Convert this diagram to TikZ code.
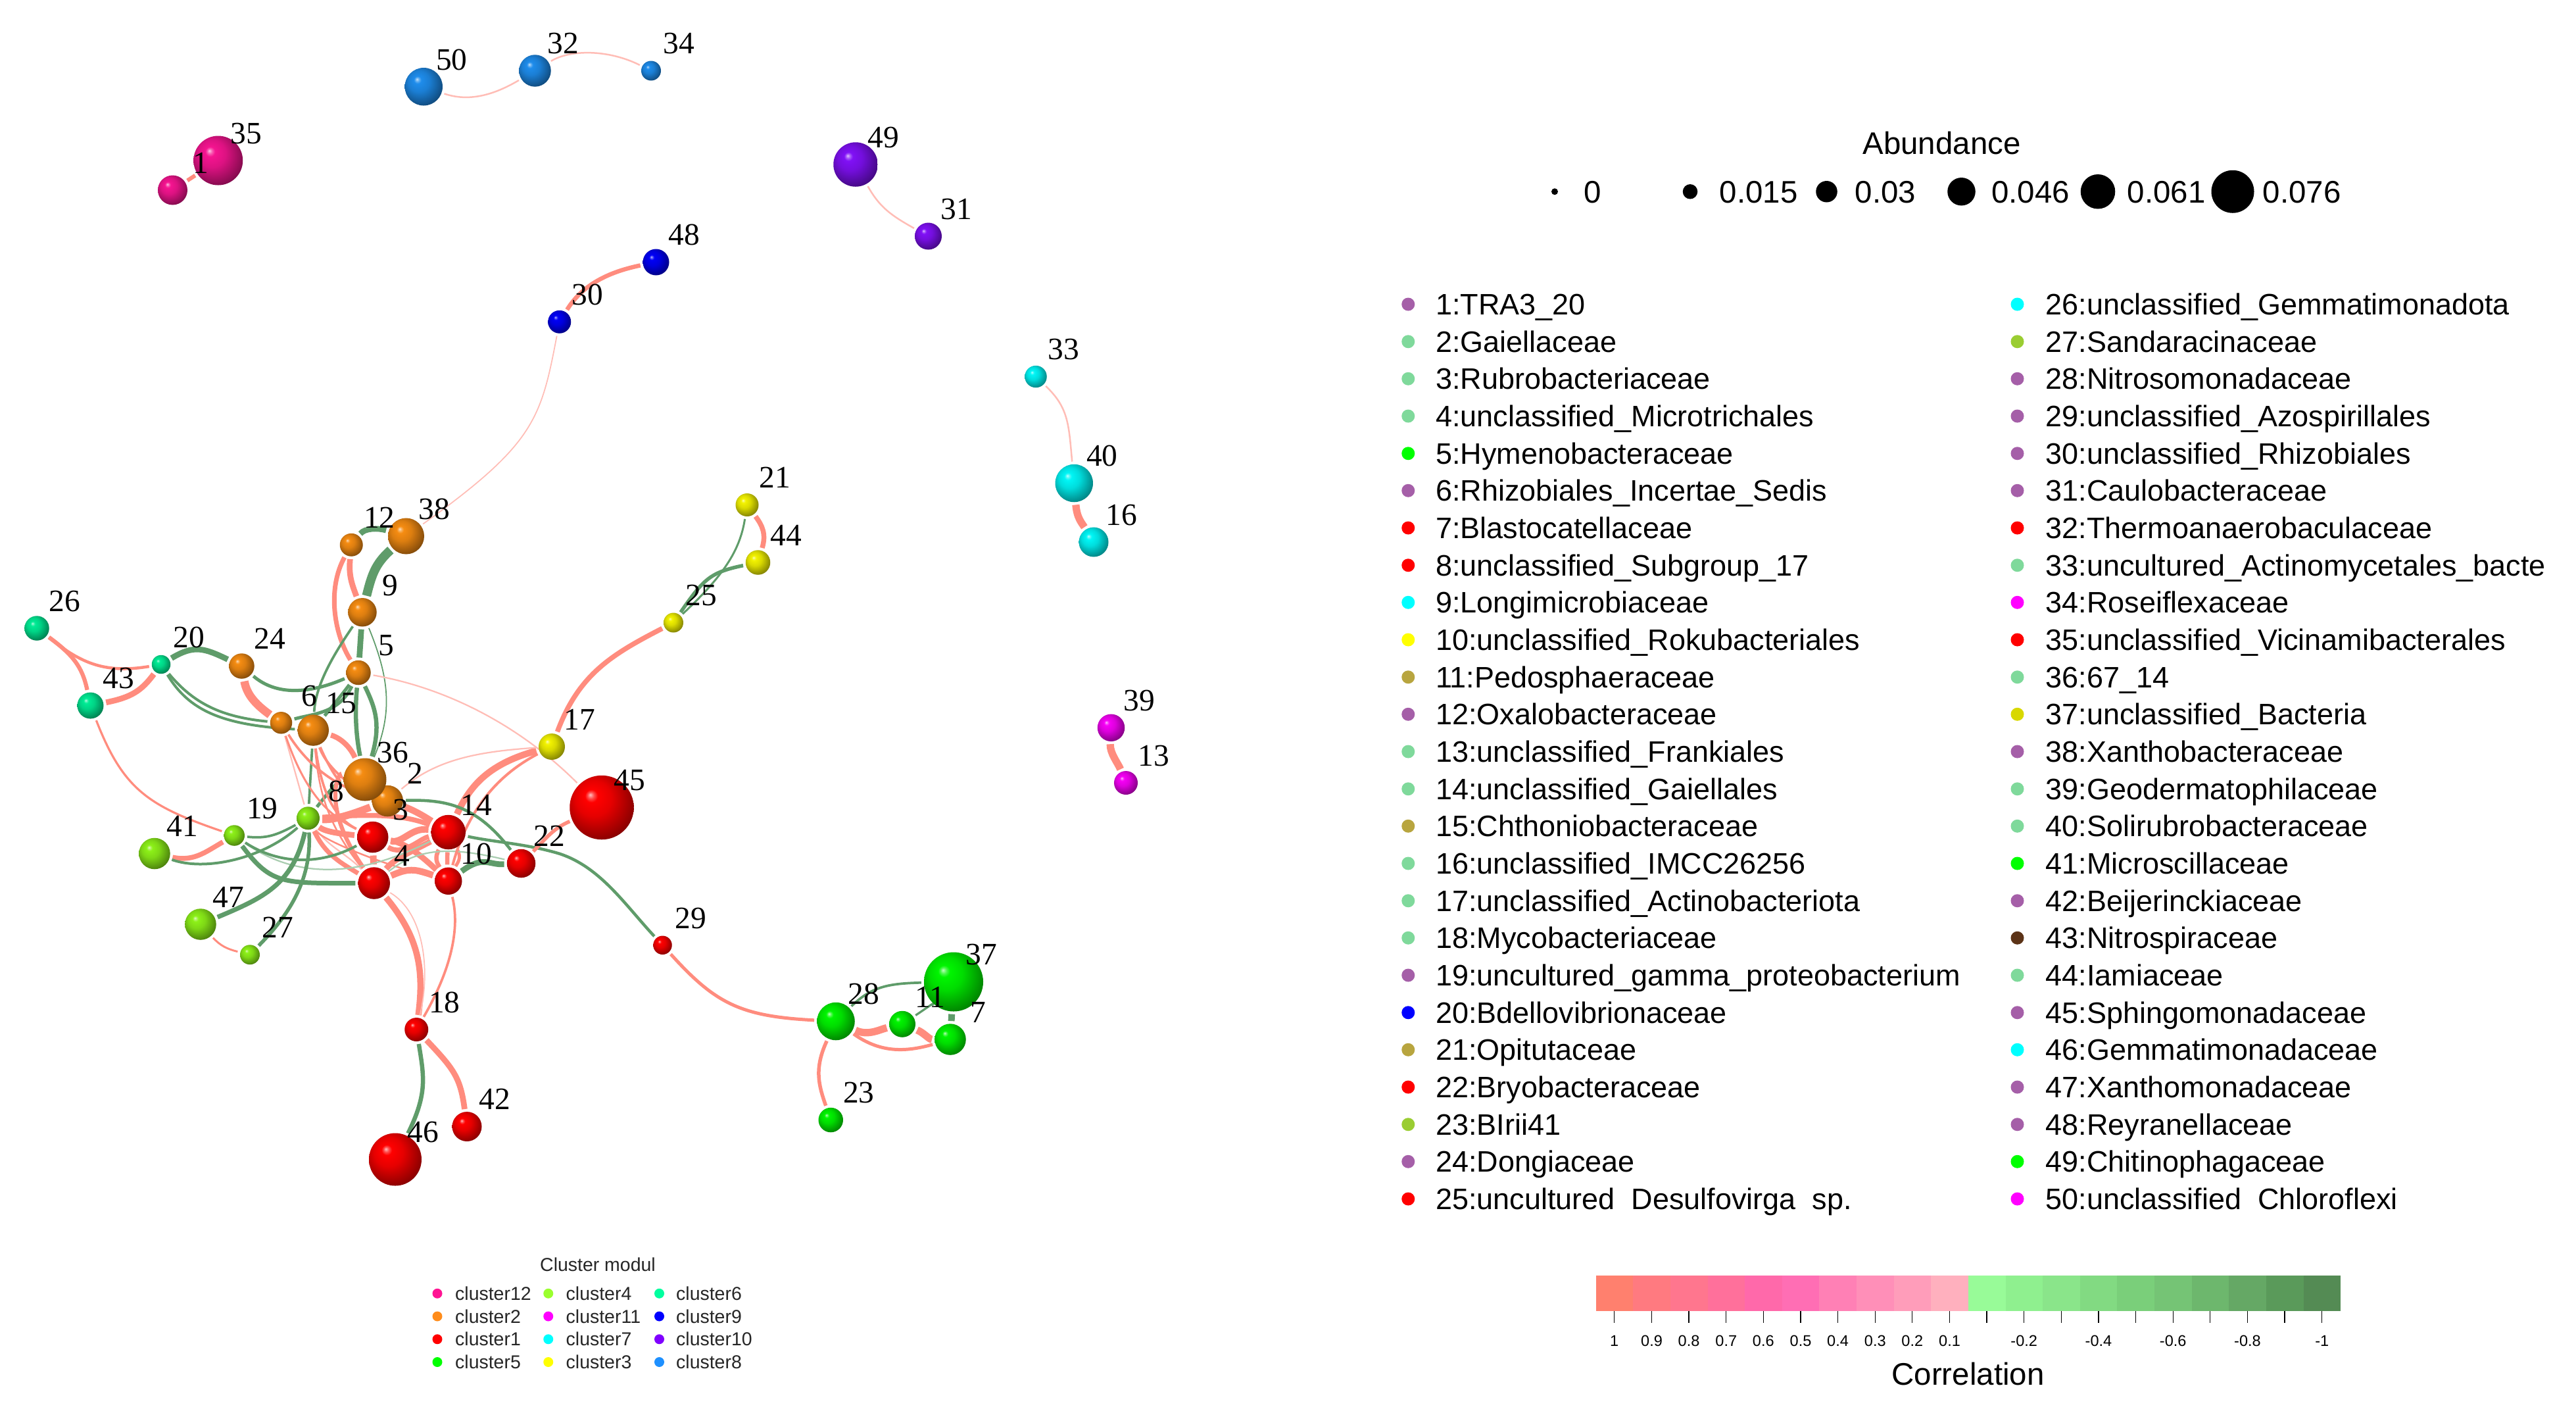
\documentclass[tikz,border=0pt]{standalone}
\usepackage{fontspec}
\setmainfont{Liberation Sans}
\newfontfamily\numfont{Liberation Serif}
\usetikzlibrary{backgrounds}

\definecolor{poscol}{HTML}{FF8C7E}
\definecolor{palecol}{HTML}{FFBDB6}
\definecolor{negcol}{HTML}{5F9C6A}
\definecolor{palegrn}{HTML}{A9CDB0}
\definecolor{dotpurple}{HTML}{A55FA8}
\definecolor{dotmint}{HTML}{7FD99B}
\definecolor{dotolive}{HTML}{B8A53F}
\definecolor{dotlime}{HTML}{9ACD32}
\definecolor{dotyellow}{HTML}{D8D800}
\definecolor{dotbrown}{HTML}{5C3317}
\definecolor{purecyan}{HTML}{00FFFF}
\definecolor{puremagenta}{HTML}{FF00FF}
\definecolor{pureyellow}{HTML}{FFFF00}
\definecolor{key12}{HTML}{FF1493}
\definecolor{key2}{HTML}{FF8C1A}
\definecolor{key4}{HTML}{9AFF2E}
\definecolor{key6}{HTML}{00FF9F}
\definecolor{key10}{HTML}{8000FF}
\definecolor{key8}{HTML}{1E90FF}

\pgfdeclareradialshading[spherecol]{sphere}{\pgfqpoint{-9bp}{10bp}}{%
  color(0bp)=(spherecol!25!white);
  color(2.5bp)=(spherecol!70!white);
  color(5bp)=(spherecol);
  color(14bp)=(spherecol!90!black);
  color(25bp)=(spherecol!65!black);
  color(38bp)=(spherecol!35!black);
  color(50bp)=(spherecol!25!black)}

\tikzset{
  sphcol/.code={\definecolor{spherecol}{HTML}{#1}},
  sph/.style={circle,inner sep=0pt,outer sep=1.2pt,minimum size=#1*0.5mm,shading=sphere,shade},
  cl1/.style={sph=#1,sphcol=FF0000},
  cl2/.style={sph=#1,sphcol=F58C12},
  cl3/.style={sph=#1,sphcol=F2F200},
  cl4/.style={sph=#1,sphcol=8CF018},
  cl5/.style={sph=#1,sphcol=00F500},
  cl6/.style={sph=#1,sphcol=00EB94},
  cl7/.style={sph=#1,sphcol=00F5F5},
  cl8/.style={sph=#1,sphcol=1E8CEB},
  cl9/.style={sph=#1,sphcol=0000F5},
  cl10/.style={sph=#1,sphcol=8010F5},
  cl11/.style={sph=#1,sphcol=F500F5},
  cl12/.style={sph=#1,sphcol=F51490},
  numlab/.style={inner sep=0pt,font=\numfont\fontsize{13.5}{14}\selectfont},
  posedge/.style={poscol,line width=#1*0.711pt},
  paleedge/.style={palecol,line width=#1*0.711pt},
  negedge/.style={negcol,line width=#1*0.711pt},
  palegreen/.style={palegrn,line width=#1*0.711pt},
  ldot/.style={circle,inner sep=0pt,minimum size=2mm,fill=#1},
  ltxt/.style={anchor=west,inner sep=0pt,text height=10pt,text depth=0.8pt,font=\fontsize{12.8}{14}\selectfont},
  bigtxt/.style={inner sep=0pt,font=\fontsize{13.5}{15}\selectfont},
  cdot/.style={circle,inner sep=0pt,minimum size=1.5mm,fill=#1},
  ctxt/.style={anchor=west,inner sep=0pt,text height=6.2pt,text depth=0.4pt,font=\fontsize{8.1}{9}\selectfont,black!85},
  ticklab/.style={inner sep=0pt,font=\fontsize{6.7}{7}\selectfont},
  adot/.style={circle,inner sep=0pt,fill=black,minimum size=#1*0.5mm},
}

\begin{document}
\begin{tikzpicture}[x=0.25mm,y=-0.25mm]
  \useasboundingbox (0,0) rectangle (1566.8,860);

  % spheres
  \node[cl8=11.5] (n50) at (257.7,52.7) {};
  \node[cl8=9.7] (n32) at (325.4,43) {};
  \node[cl8=6] (n34) at (396,43) {};
  \node[cl12=15] (n35) at (132.7,97.6) {};
  \node[cl12=9] (n1) at (105,115.6) {};
  \node[cl10=13.5] (n49) at (520.4,100) {};
  \node[cl10=8.2] (n31) at (564.6,143.6) {};
  \node[cl9=8] (n48) at (399,159.4) {};
  \node[cl9=7] (n30) at (340.3,195.7) {};
  \node[cl7=6.7] (n33) at (630,229) {};
  \node[cl7=11.5] (n40) at (653.3,293.8) {};
  \node[cl7=9] (n16) at (665.2,329.6) {};
  \node[cl11=8.3] (n39) at (675.8,442.5) {};
  \node[cl11=7.2] (n13) at (684.8,476) {};
  \node[cl3=7] (n21) at (454.4,307) {};
  \node[cl3=7.5] (n44) at (461,342) {};
  \node[cl3=6] (n25) at (409.6,378.6) {};
  \node[cl3=8] (n17) at (335.6,454) {};
  \node[cl2=11] (n38) at (247,326) {};
  \node[cl2=7] (n12) at (213.7,331.3) {};
  \node[cl2=8.7] (n9) at (220.4,372.3) {};
  \node[cl2=7.5] (n5) at (218,409) {};
  \node[cl2=7.7] (n24) at (147,405) {};
  \node[cl2=6.7] (n6) at (171,439.5) {};
  \node[cl2=9.5] (n15) at (190.5,444) {};
  \node[cl2=9.5] (n2) at (235.7,487) {};
  \node[cl2=13] (n36) at (222,474) {};
  \node[cl6=7.5] (n26) at (22.4,382) {};
  \node[cl6=5.7] (n20) at (98,404) {};
  \node[cl6=8] (n43) at (55,429) {};
  \node[cl4=7] (n8) at (187.4,497.5) {};
  \node[cl4=6.3] (n19) at (142.5,508) {};
  \node[cl4=9.5] (n41) at (94,519) {};
  \node[cl4=9.5] (n47) at (122,562) {};
  \node[cl4=6] (n27) at (152,580.5) {};
  \node[cl1=9.5] (n3) at (226.7,509) {};
  \node[cl1=10.5] (n14) at (272.7,506) {};
  \node[cl1=9.7] (n4) at (227.5,537) {};
  \node[cl1=8.3] (n10) at (272.7,535.7) {};
  \node[cl1=8.7] (n22) at (317,525) {};
  \node[cl1=19.5] (n45) at (366,491) {};
  \node[cl1=5.7] (n29) at (403,574.7) {};
  \node[cl1=7.2] (n18) at (253.3,626) {};
  \node[cl1=9] (n42) at (284,685) {};
  \node[cl1=16] (n46) at (240.4,705) {};
  \node[cl5=11.5] (n28) at (508.4,621) {};
  \node[cl5=8] (n11) at (548.8,622.7) {};
  \node[cl5=18] (n37) at (580,597) {};
  \node[cl5=9.5] (n7) at (578,632) {};
  \node[cl5=7.5] (n23) at (505.3,681) {};

  % numbers beside the spheres
  \draw (n1)++(17,-16.5)node[numlab](l1){1};
  \draw (n2)++(17,-16.5)node[numlab](l2){2};
  \draw (n3)++(17,-16.5)node[numlab](l3){3};
  \draw (n4)++(17,-16.5)node[numlab](l4){4};
  \draw (n5)++(17,-16.5)node[numlab](l5){5};
  \draw (n6)++(17,-16.5)node[numlab](l6){6};
  \draw (n7)++(17,-16.5)node[numlab](l7){7};
  \draw (n8)++(17,-16.5)node[numlab](l8){8};
  \draw (n9)++(17,-16.5)node[numlab](l9){9};
  \draw (n10)++(17,-16.5)node[numlab](l10){10};
  \draw (n11)++(17,-16.5)node[numlab](l11){11};
  \draw (n12)++(17,-16.5)node[numlab](l12){12};
  \draw (n13)++(17,-16.5)node[numlab](l13){13};
  \draw (n14)++(17,-16.5)node[numlab](l14){14};
  \draw (n15)++(17,-16.5)node[numlab](l15){15};
  \draw (n16)++(17,-16.5)node[numlab](l16){16};
  \draw (n17)++(17,-16.5)node[numlab](l17){17};
  \draw (n18)++(17,-16.5)node[numlab](l18){18};
  \draw (n19)++(17,-16.5)node[numlab](l19){19};
  \draw (n20)++(17,-16.5)node[numlab](l20){20};
  \draw (n21)++(17,-16.5)node[numlab](l21){21};
  \draw (n22)++(17,-16.5)node[numlab](l22){22};
  \draw (n23)++(17,-16.5)node[numlab](l23){23};
  \draw (n24)++(17,-16.5)node[numlab](l24){24};
  \draw (n25)++(17,-16.5)node[numlab](l25){25};
  \draw (n26)++(17,-16.5)node[numlab](l26){26};
  \draw (n27)++(17,-16.5)node[numlab](l27){27};
  \draw (n28)++(17,-16.5)node[numlab](l28){28};
  \draw (n29)++(17,-16.5)node[numlab](l29){29};
  \draw (n30)++(17,-16.5)node[numlab](l30){30};
  \draw (n31)++(17,-16.5)node[numlab](l31){31};
  \draw (n32)++(17,-16.5)node[numlab](l32){32};
  \draw (n33)++(17,-16.5)node[numlab](l33){33};
  \draw (n34)++(17,-16.5)node[numlab](l34){34};
  \draw (n35)++(17,-16.5)node[numlab](l35){35};
  \draw (n36)++(17,-16.5)node[numlab](l36){36};
  \draw (n37)++(17,-16.5)node[numlab](l37){37};
  \draw (n38)++(17,-16.5)node[numlab](l38){38};
  \draw (n39)++(17,-16.5)node[numlab](l39){39};
  \draw (n40)++(17,-16.5)node[numlab](l40){40};
  \draw (n41)++(17,-16.5)node[numlab](l41){41};
  \draw (n42)++(17,-16.5)node[numlab](l42){42};
  \draw (n43)++(17,-16.5)node[numlab](l43){43};
  \draw (n44)++(17,-16.5)node[numlab](l44){44};
  \draw (n45)++(17,-16.5)node[numlab](l45){45};
  \draw (n46)++(17,-16.5)node[numlab](l46){46};
  \draw (n47)++(17,-16.5)node[numlab](l47){47};
  \draw (n48)++(17,-16.5)node[numlab](l48){48};
  \draw (n49)++(17,-16.5)node[numlab](l49){49};
  \draw (n50)++(17,-16.5)node[numlab](l50){50};

  % links
  \begin{scope}[on background layer]
    \draw[paleedge=1] (n50) .. controls (285,62) and (300,58) .. (n32);
    \draw[paleedge=1] (n32) .. controls (347,30) and (370,30) .. (n34);
    \draw[posedge=2.4] (n1) -- (n35);
    \draw[paleedge=1] (n49) .. controls (535,126) and (542,131) .. (n31);
    \draw[posedge=2.6] (n48) .. controls (372,165) and (355,172) .. (n30);
    \draw[paleedge=0.7] (n30) .. controls (329,255) and (325,270) .. (n38);
    \draw[paleedge=1] (n33) .. controls (650,248) and (650,258) .. (n40);
    \draw[posedge=4.5] (n40) .. controls (655,315) and (658,318) .. (n16);
    \draw[posedge=4.5] (n39) .. controls (675,458) and (680,464) .. (n13);

    \draw[posedge=3] (n21) .. controls (464,320) and (466,325) .. (n44);
    \draw[negedge=1.2] (n21) .. controls (450,335) and (440,350) .. (n25);
    \draw[negedge=2.2] (n44) .. controls (432,348) and (428,352) .. (n25);
    \draw[posedge=3] (n25) .. controls (372,398) and (352,410) .. (n17);

    \draw[negedge=3.5] (n12) .. controls (222,321) and (230,321) .. (n38);
    \draw[negedge=5.5] (n38) .. controls (228,343) and (226,350) .. (n9);
    \draw[posedge=3.5] (n12) .. controls (212,350) and (214,355) .. (n9);
    \draw[posedge=2.8] (n12) .. controls (199,358) and (203,385) .. (n5);
    \draw[negedge=3.5] (n9) -- (n5);
    \draw[negedge=1.5] (n9) .. controls (205,395) and (192,415) .. (n15);
    \draw[negedge=0.7] (n9) .. controls (238,415) and (238,435) .. (n36);
    \draw[negedge=2] (n24) .. controls (168,423) and (188,422) .. (n5);
    \draw[negedge=3.5] (n20) .. controls (118,392) and (124,394) .. (n24);
    \draw[posedge=1.8] (n26) .. controls (48,402) and (62,410) .. (n20);
    \draw[posedge=2.5] (n26) .. controls (44,398) and (50,405) .. (n43);
    \draw[posedge=3.5] (n43) .. controls (80,424) and (86,420) .. (n20);
    \draw[negedge=1.6] (n20) .. controls (118,428) and (135,436) .. (n6);
    \draw[negedge=1.6] (n20) .. controls (115,432) and (135,441) .. (n15);
    \draw[posedge=5] (n24) .. controls (150,422) and (155,428) .. (n6);
    \draw[posedge=1.3] (n43) .. controls (75,480) and (90,490) .. (n19);
    \draw[negedge=2] (n5) .. controls (206,434) and (190,434) .. (n6);
    \draw[negedge=2] (n5) .. controls (206,425) and (200,432) .. (n15);
    \draw[negedge=2.6] (n5) .. controls (216,430) and (216,445) .. (n36);
    \draw[negedge=2.6] (n5) .. controls (228,430) and (232,440) .. (n36);
    \draw[paleedge=0.9] (n5) .. controls (270,418) and (315,440) .. (n45);
    \draw[negedge=1.5] (n15) -- (n8);
    \draw[negedge=2] (n36) .. controls (205,475) and (198,484) .. (n8);

    \draw[posedge=3.2] (n15) .. controls (205,448) and (212,452) .. (n36);
    \draw[posedge=1.5] (n15) .. controls (198,462) and (205,475) .. (n36);
    \draw[paleedge=0.9] (n6) -- (n8);
    \draw[posedge=1.2] (n6) .. controls (185,480) and (198,495) .. (n3);
    \draw[posedge=1.5] (n6) .. controls (190,470) and (210,480) .. (n2);
    \draw[posedge=1.5] (n15) .. controls (196,485) and (205,498) .. (n3);
    \draw[posedge=1] (n15) .. controls (194,480) and (198,500) .. (n4);
    \draw[posedge=1.5] (n15) .. controls (200,470) and (220,482) .. (n2);
    \draw[posedge=2.5] (n36) .. controls (206,470) and (195,490) .. (n4);

    \draw[posedge=4.5] (n8) .. controls (205,499) and (222,492) .. (n2);
    \draw[posedge=3.5] (n8) .. controls (198,506) and (208,507) .. (n3);
    \draw[posedge=2.8] (n8) .. controls (198,520) and (208,525) .. (n4);
    \draw[paleedge=0.9] (n8) .. controls (200,515) and (212,520) .. (n4);
    \draw[posedge=1] (n8) .. controls (195,510) and (230,525) .. (n10);
    \draw[posedge=3] (n8) .. controls (225,495) and (245,495) .. (n14);
    \draw[posedge=4] (n3) .. controls (245,513) and (250,503) .. (n14);
    \draw[posedge=3] (n3) .. controls (245,521) and (255,510) .. (n14);
    \draw[posedge=4] (n2) .. controls (250,492) and (256,495) .. (n14);
    \draw[posedge=3.5] (n4) .. controls (240,522) and (250,518) .. (n14);
    \draw[posedge=4] (n4) -- (n3);
    \draw[posedge=3.5] (n3) .. controls (248,513) and (258,522) .. (n10);
    \draw[posedge=2.6] (n14) .. controls (264,522) and (266,525) .. (n10);
    \draw[posedge=2.6] (n14) .. controls (272,522) and (272,525) .. (n10);
    \draw[posedge=2] (n14) .. controls (281,522) and (278,525) .. (n10);
    \draw[posedge=4] (n4) .. controls (248,528) and (252,528) .. (n10);
    \draw[palegreen=0.9] (n4) .. controls (255,515) and (275,515) .. (n22);
    \draw[palegreen=0.9] (n19) .. controls (185,538) and (225,530) .. (n14);

    \draw[posedge=4] (n14) .. controls (285,480) and (295,465) .. (n17);
    \draw[posedge=1.6] (n10) .. controls (285,490) and (305,470) .. (n17);
    \draw[paleedge=0.9] (n2) .. controls (265,462) and (290,457) .. (n17);
    \draw[negedge=1.8] (n2) .. controls (272,486) and (290,490) .. (n22);
    \draw[negedge=1.8] (n14) .. controls (300,512) and (320,513) .. (340,519) .. controls (365,527) and (380,550) .. (n29);
    \draw[negedge=3.5] (n10) .. controls (294,520) and (297,526) .. (n22);
    \draw[posedge=2.2] (n22) .. controls (332,510) and (336,504) .. (n45);

    \draw[negedge=1.5] (n19) .. controls (162,510) and (168,508) .. (n8);
    \draw[posedge=3] (n41) .. controls (118,524) and (125,518) .. (n19);
    \draw[negedge=1.6] (n41) .. controls (125,530) and (160,522) .. (n8);
    \draw[negedge=1.6] (n19) .. controls (170,526) and (195,526) .. (n3);
    \draw[negedge=2.8] (n19) .. controls (165,538) and (172,537) .. (n4);
    \draw[negedge=2.8] (n8) .. controls (178,538) and (160,546) .. (n47);
    \draw[negedge=2.2] (n8) .. controls (190,538) and (172,560) .. (n27);
    \draw[posedge=1.2] (n47) .. controls (134,575) and (138,577) .. (n27);

    \draw[posedge=3.8] (n4) .. controls (255,570) and (258,590) .. (n18);
    \draw[paleedge=0.7] (n4) .. controls (258,555) and (262,590) .. (n18);
    \draw[posedge=1.5] (n10) .. controls (280,565) and (274,590) .. (n18);
    \draw[negedge=2.6] (n18) .. controls (258,655) and (260,665) .. (n46);
    \draw[posedge=3.5] (n18) .. controls (276,650) and (280,655) .. (n42);
    \draw[posedge=2] (n29) .. controls (435,610) and (450,618) .. (n28);
    \draw[posedge=2.2] (n28) .. controls (495,650) and (498,660) .. (n23);
    \draw[negedge=1.5] (n28) .. controls (530,600) and (540,598) .. (n37);
    \draw[posedge=4.5] (n28) .. controls (528,630) and (535,626) .. (n11);
    \draw[posedge=2] (n28) .. controls (535,640) and (550,640) .. (n7);
    \draw[posedge=4.5] (n11) .. controls (562,628) and (565,632) .. (n7);
    \draw[negedge=1.3] (n37) .. controls (570,608) and (565,612) .. (n11);
    \draw[negedge=4] (n37) -- (n7);
  \end{scope}

  % abundance
  \node[bigtxt] (abund) at (1181,87) {Abundance};
  \node[adot=2] (a0) at (945.6,116.5) {};
  \node[adot=4.5] (a1) at (1028,116.5) {};
  \node[adot=6.5] (a2) at (1111,116.5) {};
  \node[adot=8.5] (a3) at (1193,116.5) {};
  \node[adot=10.5] (a4) at (1276,116.5) {};
  \node[adot=13] (a5) at (1358,116.5) {};
  \node[bigtxt,anchor=west] (av0) at (963,117) {0};
  \node[bigtxt,anchor=west] (av1) at (1045.7,117) {0.015};
  \node[bigtxt,anchor=west] (av2) at (1128,117) {0.03};
  \node[bigtxt,anchor=west] (av3) at (1211,117) {0.046};
  \node[bigtxt,anchor=west] (av4) at (1293.6,117) {0.061};
  \node[bigtxt,anchor=west] (av5) at (1376,117) {0.076};

  % taxa, first column
  \node[ldot=dotpurple] (d1) at (856.5,185) {};
  \node[ltxt] (t1) at (873,185) {1:TRA3\_20};
  \node[ldot=dotmint] (d2) at (856.5,207.7) {};
  \node[ltxt] (t2) at (873,207.7) {2:Gaiellaceae};
  \node[ldot=dotmint] (d3) at (856.5,230.3) {};
  \node[ltxt] (t3) at (873,230.3) {3:Rubrobacteriaceae};
  \node[ldot=dotmint] (d4) at (856.5,253) {};
  \node[ltxt] (t4) at (873,253) {4:unclassified\_Microtrichales};
  \node[ldot=green] (d5) at (856.5,275.7) {};
  \node[ltxt] (t5) at (873,275.7) {5:Hymenobacteraceae};
  \node[ldot=dotpurple] (d6) at (856.5,298.3) {};
  \node[ltxt] (t6) at (873,298.3) {6:Rhizobiales\_Incertae\_Sedis};
  \node[ldot=red] (d7) at (856.5,321) {};
  \node[ltxt] (t7) at (873,321) {7:Blastocatellaceae};
  \node[ldot=red] (d8) at (856.5,343.7) {};
  \node[ltxt] (t8) at (873,343.7) {8:unclassified\_Subgroup\_17};
  \node[ldot=purecyan] (d9) at (856.5,366.3) {};
  \node[ltxt] (t9) at (873,366.3) {9:Longimicrobiaceae};
  \node[ldot=pureyellow] (d10) at (856.5,389) {};
  \node[ltxt] (t10) at (873,389) {10:unclassified\_Rokubacteriales};
  \node[ldot=dotolive] (d11) at (856.5,411.7) {};
  \node[ltxt] (t11) at (873,411.7) {11:Pedosphaeraceae};
  \node[ldot=dotpurple] (d12) at (856.5,434.3) {};
  \node[ltxt] (t12) at (873,434.3) {12:Oxalobacteraceae};
  \node[ldot=dotmint] (d13) at (856.5,457) {};
  \node[ltxt] (t13) at (873,457) {13:unclassified\_Frankiales};
  \node[ldot=dotmint] (d14) at (856.5,479.7) {};
  \node[ltxt] (t14) at (873,479.7) {14:unclassified\_Gaiellales};
  \node[ldot=dotolive] (d15) at (856.5,502.3) {};
  \node[ltxt] (t15) at (873,502.3) {15:Chthoniobacteraceae};
  \node[ldot=dotmint] (d16) at (856.5,525) {};
  \node[ltxt] (t16) at (873,525) {16:unclassified\_IMCC26256};
  \node[ldot=dotmint] (d17) at (856.5,547.7) {};
  \node[ltxt] (t17) at (873,547.7) {17:unclassified\_Actinobacteriota};
  \node[ldot=dotmint] (d18) at (856.5,570.3) {};
  \node[ltxt] (t18) at (873,570.3) {18:Mycobacteriaceae};
  \node[ldot=dotpurple] (d19) at (856.5,593) {};
  \node[ltxt] (t19) at (873,593) {19:uncultured\_gamma\_proteobacterium};
  \node[ldot=blue] (d20) at (856.5,615.7) {};
  \node[ltxt] (t20) at (873,615.7) {20:Bdellovibrionaceae};
  \node[ldot=dotolive] (d21) at (856.5,638.3) {};
  \node[ltxt] (t21) at (873,638.3) {21:Opitutaceae};
  \node[ldot=red] (d22) at (856.5,661) {};
  \node[ltxt] (t22) at (873,661) {22:Bryobacteraceae};
  \node[ldot=dotlime] (d23) at (856.5,683.7) {};
  \node[ltxt] (t23) at (873,683.7) {23:BIrii41};
  \node[ldot=dotpurple] (d24) at (856.5,706.3) {};
  \node[ltxt] (t24) at (873,706.3) {24:Dongiaceae};
  \node[ldot=red] (d25) at (856.5,729) {};
  \node[ltxt] (t25) at (873,729) {25:uncultured\ \ Desulfovirga\ \ sp.};

  % taxa, second column
  \node[ldot=purecyan] (d26) at (1227,185) {};
  \node[ltxt] (t26) at (1244,185) {26:unclassified\_Gemmatimonadota};
  \node[ldot=dotlime] (d27) at (1227,207.7) {};
  \node[ltxt] (t27) at (1244,207.7) {27:Sandaracinaceae};
  \node[ldot=dotpurple] (d28) at (1227,230.3) {};
  \node[ltxt] (t28) at (1244,230.3) {28:Nitrosomonadaceae};
  \node[ldot=dotpurple] (d29) at (1227,253) {};
  \node[ltxt] (t29) at (1244,253) {29:unclassified\_Azospirillales};
  \node[ldot=dotpurple] (d30) at (1227,275.7) {};
  \node[ltxt] (t30) at (1244,275.7) {30:unclassified\_Rhizobiales};
  \node[ldot=dotpurple] (d31) at (1227,298.3) {};
  \node[ltxt] (t31) at (1244,298.3) {31:Caulobacteraceae};
  \node[ldot=red] (d32) at (1227,321) {};
  \node[ltxt] (t32) at (1244,321) {32:Thermoanaerobaculaceae};
  \node[ldot=dotmint] (d33) at (1227,343.7) {};
  \node[ltxt] (t33) at (1244,343.7) {33:uncultured\_Actinomycetales\_bacte};
  \node[ldot=puremagenta] (d34) at (1227,366.3) {};
  \node[ltxt] (t34) at (1244,366.3) {34:Roseiflexaceae};
  \node[ldot=red] (d35) at (1227,389) {};
  \node[ltxt] (t35) at (1244,389) {35:unclassified\_Vicinamibacterales};
  \node[ldot=dotmint] (d36) at (1227,411.7) {};
  \node[ltxt] (t36) at (1244,411.7) {36:67\_14};
  \node[ldot=dotyellow] (d37) at (1227,434.3) {};
  \node[ltxt] (t37) at (1244,434.3) {37:unclassified\_Bacteria};
  \node[ldot=dotpurple] (d38) at (1227,457) {};
  \node[ltxt] (t38) at (1244,457) {38:Xanthobacteraceae};
  \node[ldot=dotmint] (d39) at (1227,479.7) {};
  \node[ltxt] (t39) at (1244,479.7) {39:Geodermatophilaceae};
  \node[ldot=dotmint] (d40) at (1227,502.3) {};
  \node[ltxt] (t40) at (1244,502.3) {40:Solirubrobacteraceae};
  \node[ldot=green] (d41) at (1227,525) {};
  \node[ltxt] (t41) at (1244,525) {41:Microscillaceae};
  \node[ldot=dotpurple] (d42) at (1227,547.7) {};
  \node[ltxt] (t42) at (1244,547.7) {42:Beijerinckiaceae};
  \node[ldot=dotbrown] (d43) at (1227,570.3) {};
  \node[ltxt] (t43) at (1244,570.3) {43:Nitrospiraceae};
  \node[ldot=dotmint] (d44) at (1227,593) {};
  \node[ltxt] (t44) at (1244,593) {44:Iamiaceae};
  \node[ldot=dotpurple] (d45) at (1227,615.7) {};
  \node[ltxt] (t45) at (1244,615.7) {45:Sphingomonadaceae};
  \node[ldot=purecyan] (d46) at (1227,638.3) {};
  \node[ltxt] (t46) at (1244,638.3) {46:Gemmatimonadaceae};
  \node[ldot=dotpurple] (d47) at (1227,661) {};
  \node[ltxt] (t47) at (1244,661) {47:Xanthomonadaceae};
  \node[ldot=dotpurple] (d48) at (1227,683.7) {};
  \node[ltxt] (t48) at (1244,683.7) {48:Reyranellaceae};
  \node[ldot=green] (d49) at (1227,706.3) {};
  \node[ltxt] (t49) at (1244,706.3) {49:Chitinophagaceae};
  \node[ldot=puremagenta] (d50) at (1227,729) {};
  \node[ltxt] (t50) at (1244,729) {50:unclassified\ \ Chloroflexi};

  % cluster key
  \node[ctxt,anchor=center] (ckey) at (363.6,769) {Cluster modul};
  \node[cdot=key12] (c12) at (266,786.5) {};
  \node[ctxt] (k12) at (276.6,786.5) {cluster12};
  \node[cdot=key2] (c2) at (266,800.4) {};
  \node[ctxt] (k2) at (276.6,800.4) {cluster2};
  \node[cdot=red] (c1) at (266,814.3) {};
  \node[ctxt] (k1) at (276.6,814.3) {cluster1};
  \node[cdot=green] (c5) at (266,828.2) {};
  \node[ctxt] (k5) at (276.6,828.2) {cluster5};
  \node[cdot=key4] (c4) at (333.5,786.5) {};
  \node[ctxt] (k4) at (344,786.5) {cluster4};
  \node[cdot=puremagenta] (c11) at (333.5,800.4) {};
  \node[ctxt] (k11) at (344,800.4) {cluster11};
  \node[cdot=purecyan] (c7) at (333.5,814.3) {};
  \node[ctxt] (k7) at (344,814.3) {cluster7};
  \node[cdot=pureyellow] (c3) at (333.5,828.2) {};
  \node[ctxt] (k3) at (344,828.2) {cluster3};
  \node[cdot=key6] (c6) at (401,786.5) {};
  \node[ctxt] (k6) at (411,786.5) {cluster6};
  \node[cdot=blue] (c9) at (401,800.4) {};
  \node[ctxt] (k9) at (411,800.4) {cluster9};
  \node[cdot=key10] (c10) at (401,814.3) {};
  \node[ctxt] (k10) at (411,814.3) {cluster10};
  \node[cdot=key8] (c8) at (401,828.2) {};
  \node[ctxt] (k8) at (411,828.2) {cluster8};

  % colour bar
  \fill[fill={rgb,255:red,255;green,128;blue,110}] (970.6,775.7) rectangle (993.3,797.3);
  \fill[fill={rgb,255:red,255;green,122;blue,128}] (993.3,775.7) rectangle (1015.9,797.3);
  \fill[fill={rgb,255:red,255;green,118;blue,142}] (1015.9,775.7) rectangle (1038.6,797.3);
  \fill[fill={rgb,255:red,255;green,112;blue,155}] (1038.6,775.7) rectangle (1061.2,797.3);
  \fill[fill={rgb,255:red,255;green,105;blue,170}] (1061.2,775.7) rectangle (1083.9,797.3);
  \fill[fill={rgb,255:red,255;green,110;blue,180}] (1083.9,775.7) rectangle (1106.5,797.3);
  \fill[fill={rgb,255:red,255;green,128;blue,181}] (1106.5,775.7) rectangle (1129.2,797.3);
  \fill[fill={rgb,255:red,255;green,143;blue,184}] (1129.2,775.7) rectangle (1151.8,797.3);
  \fill[fill={rgb,255:red,255;green,157;blue,186}] (1151.8,775.7) rectangle (1174.5,797.3);
  \fill[fill={rgb,255:red,255;green,176;blue,190}] (1174.5,775.7) rectangle (1197.1,797.3);
  \fill[fill={rgb,255:red,152;green,251;blue,152}] (1197.1,775.7) rectangle (1219.8,797.3);
  \fill[fill={rgb,255:red,143;green,240;blue,143}] (1219.8,775.7) rectangle (1242.4,797.3);
  \fill[fill={rgb,255:red,138;green,229;blue,138}] (1242.4,775.7) rectangle (1265.1,797.3);
  \fill[fill={rgb,255:red,130;green,218;blue,130}] (1265.1,775.7) rectangle (1287.7,797.3);
  \fill[fill={rgb,255:red,122;green,207;blue,122}] (1287.7,775.7) rectangle (1310.4,797.3);
  \fill[fill={rgb,255:red,117;green,196;blue,117}] (1310.4,775.7) rectangle (1333,797.3);
  \fill[fill={rgb,255:red,109;green,183;blue,109}] (1333,775.7) rectangle (1355.7,797.3);
  \fill[fill={rgb,255:red,101;green,168;blue,101}] (1355.7,775.7) rectangle (1378.3,797.3);
  \fill[fill={rgb,255:red,90;green,154;blue,90}] (1378.3,775.7) rectangle (1401,797.3);
  \fill[fill={rgb,255:red,84;green,139;blue,84}] (1401,775.7) rectangle (1423.7,797.3);
  \draw[line width=0.35pt] (981.9,797.3)--++(0,7) (1004.6,797.3)--++(0,7) (1027.2,797.3)--++(0,7) (1049.9,797.3)--++(0,7)
    (1072.5,797.3)--++(0,7) (1095.2,797.3)--++(0,7) (1117.8,797.3)--++(0,7) (1140.5,797.3)--++(0,7)
    (1163.1,797.3)--++(0,7) (1185.8,797.3)--++(0,7) (1208.4,797.3)--++(0,7) (1231.1,797.3)--++(0,7)
    (1253.7,797.3)--++(0,7) (1276.4,797.3)--++(0,7) (1299,797.3)--++(0,7) (1321.7,797.3)--++(0,7)
    (1344.3,797.3)--++(0,7) (1367,797.3)--++(0,7) (1389.6,797.3)--++(0,7) (1412.3,797.3)--++(0,7);
  \node[ticklab] (b1) at (981.9,815.3) {1};
  \node[ticklab] (b2) at (1004.6,815.3) {0.9};
  \node[ticklab] (b3) at (1027.2,815.3) {0.8};
  \node[ticklab] (b4) at (1049.9,815.3) {0.7};
  \node[ticklab] (b5) at (1072.5,815.3) {0.6};
  \node[ticklab] (b6) at (1095.2,815.3) {0.5};
  \node[ticklab] (b7) at (1117.8,815.3) {0.4};
  \node[ticklab] (b8) at (1140.5,815.3) {0.3};
  \node[ticklab] (b9) at (1163.1,815.3) {0.2};
  \node[ticklab] (b10) at (1185.8,815.3) {0.1};
  \node[ticklab] (b12) at (1231.1,815.3) {-0.2};
  \node[ticklab] (b14) at (1276.4,815.3) {-0.4};
  \node[ticklab] (b16) at (1321.7,815.3) {-0.6};
  \node[ticklab] (b18) at (1367,815.3) {-0.8};
  \node[ticklab] (b20) at (1412.3,815.3) {-1};
  \node[bigtxt] (corr) at (1197,835.5) {Correlation};
\end{tikzpicture}
\end{document}
